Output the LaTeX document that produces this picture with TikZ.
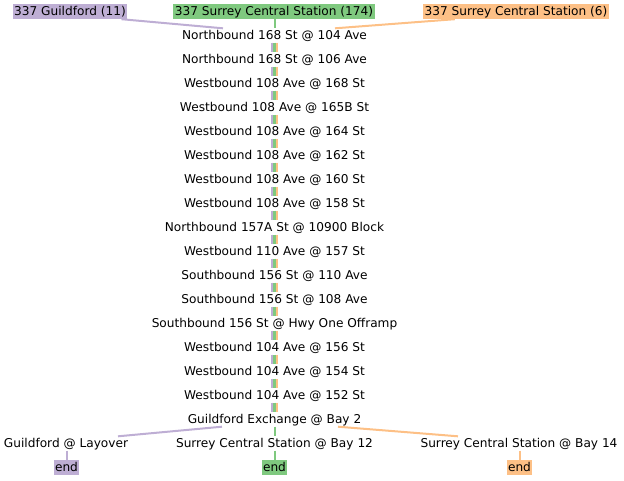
\documentclass[tikz,border=0pt]{standalone}
\usepackage{fontspec}
\setmainfont{DejaVu Sans}
\usepackage{xcolor}
\definecolor{routepurple}{HTML}{BEAED4}
\definecolor{routegreen}{HTML}{7FC97F}
\definecolor{routeorange}{HTML}{FDC086}
\tikzset{
    stop/.style={font=\fontsize{12.15}{14}\selectfont,inner xsep=1pt,inner ysep=1pt,text height=9.5pt,text depth=2.5pt},
    tag/.style={stop,inner xsep=1.5pt,inner ysep=1.5pt},
    leg/.style={line width=2.5pt},
}

\begin{document}
\begin{tikzpicture}[x=1pt,y=-1pt]
        \useasboundingbox (0,0) rectangle (624,480);
        % route heads
        \node[tag,fill=routepurple] (guil) at (70,11.5) {337 Guildford (11)};
        \node[tag,fill=routegreen] (scsa) at (274,11.5) {337 Surrey Central Station (174)};
        \node[tag,fill=routeorange] (scsb) at (516,11.5) {337 Surrey Central Station (6)};
        % shared stops
        \foreach \i/\name in {1/{Northbound 168 St @ 104 Ave},2/{Northbound 168 St @ 106 Ave},
            3/{Westbound 108 Ave @ 168 St},4/{Westbound 108 Ave @ 165B St},
            5/{Westbound 108 Ave @ 164 St},6/{Westbound 108 Ave @ 162 St},
            7/{Westbound 108 Ave @ 160 St},8/{Westbound 108 Ave @ 158 St},
            9/{Northbound 157A St @ 10900 Block},10/{Westbound 110 Ave @ 157 St},
            11/{Southbound 156 St @ 110 Ave},12/{Southbound 156 St @ 108 Ave},
            13/{Southbound 156 St @ Hwy One Offramp},14/{Westbound 104 Ave @ 156 St},
            15/{Westbound 104 Ave @ 154 St},16/{Westbound 104 Ave @ 152 St},
            17/{Guildford Exchange @ Bay 2}}
            \node[stop] (s\i) at (274.5,{11.5+24*\i}) {\name};
        \foreach \i [evaluate=\i as \j using int(\i+1)] in {1,...,16} {
            \draw[leg,routepurple] ([xshift=-2.5pt]s\i.south) -- ([xshift=-2.5pt]s\j.north);
            \draw[leg,routegreen] (s\i.south) -- (s\j.north);
            \draw[leg,routeorange] ([xshift=2.5pt]s\i.south) -- ([xshift=2.5pt]s\j.north);
        }
        % terminals
        \node[stop] (lay) at (66,443.5) {Guildford @ Layover};
        \node[stop] (bay12) at (274.5,443.5) {Surrey Central Station @ Bay 12};
        \node[stop] (bay14) at (519,443.5) {Surrey Central Station @ Bay 14};
        \node[tag,fill=routepurple] (endp) at (66.5,467.5) {end};
        \node[tag,fill=routegreen] (endg) at (274.5,467.5) {end};
        \node[tag,fill=routeorange] (endo) at (519.5,467.5) {end};
        \draw[leg,line width=2pt,routepurple] ([xshift=-6pt]guil.south east) -- ([xshift=-51.5pt]s1.north);
        \draw[leg,line width=2pt,routegreen] (s1.north |- scsa.south) -- (s1.north);
        \draw[leg,line width=2pt,routeorange] ([xshift=32pt]scsb.south west) -- ([xshift=60.5pt]s1.north);
        \draw[leg,line width=2pt,routepurple] ([xshift=-52.5pt]s17.south) -- ([xshift=52pt]lay.north);
        \draw[leg,line width=2pt,routegreen] (s17.south) -- (bay12.north);
        \draw[leg,line width=2pt,routeorange] ([xshift=63.5pt]s17.south) -- ([xshift=-61pt]bay14.north);
        \draw[leg,line width=2pt,routepurple] (lay.south -| endp.north) -- (endp.north);
        \draw[leg,line width=2pt,routegreen] (bay12.south) -- (endg.north);
        \draw[leg,line width=2pt,routeorange] (bay14.south -| endo.north) -- (endo.north);
    \end{tikzpicture}
\end{document}
